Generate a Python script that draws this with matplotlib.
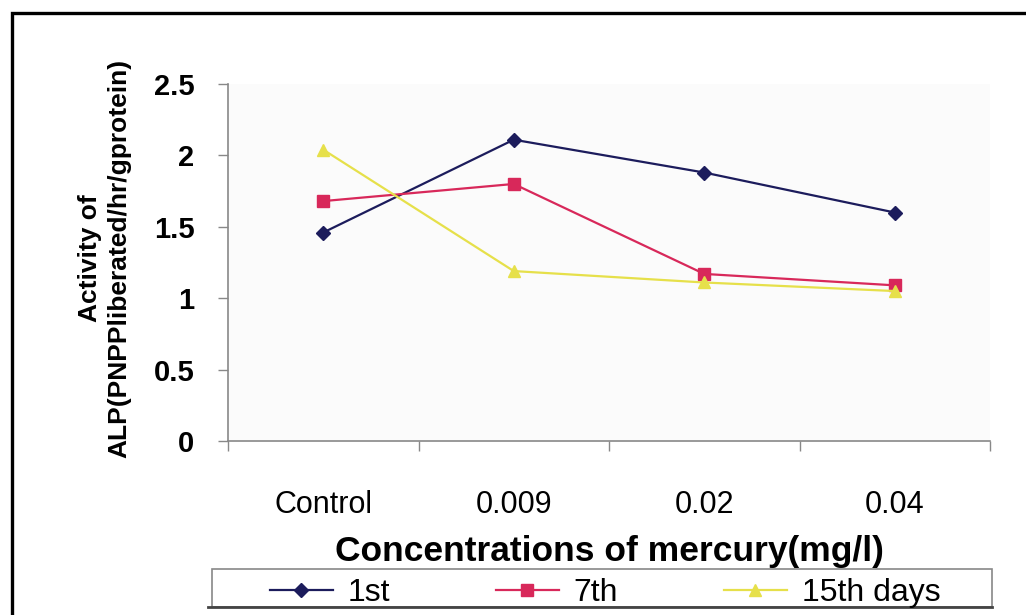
import numpy as np
import matplotlib
matplotlib.use('Agg')
import matplotlib.pyplot as plt
from matplotlib.patches import Rectangle
from matplotlib.lines import Line2D

# ALP activity by mercury concentration, three exposure periods
concentrations = ['Control', '0.009', '0.02', '0.04']
day_1 = [1.46, 2.11, 1.88, 1.60]
day_7 = [1.68, 1.80, 1.17, 1.09]
day_15 = [2.04, 1.19, 1.11, 1.05]
series_names = ['1st', '7th', '15th days']

plt.rcParams['font.family'] = ['Liberation Sans', 'DejaVu Sans']

W, H = 1026, 615
fig = plt.figure(figsize=(W / 100, H / 100), dpi=100)
fig.patch.set_facecolor('white')

# outer chart frame, runs off the right and bottom edges
fig.patches.append(Rectangle((12 / W, -0.05), 1.1, 1 - 13 / H + 0.05, transform=fig.transFigure,
                             fill=False, edgecolor='black', linewidth=2.4))

ax = fig.add_axes([228 / W, 1 - 441 / H, (990 - 228) / W, (441 - 84) / H])
ax.set_facecolor('#fbfbfb')

x = np.arange(len(concentrations))
ax.plot(x, day_1, color='#1c1c5c', marker='D', markersize=7, linewidth=1.6, label=series_names[0])
ax.plot(x, day_7, color='#d8285a', marker='s', markersize=8, linewidth=1.6, label=series_names[1])
ax.plot(x, day_15, color='#e6e04a', marker='^', markersize=9, linewidth=1.6, label=series_names[2])

ax.set_xlim(-0.5, len(concentrations) - 0.5)
ax.set_ylim(0, 2.5)
ax.set_yticks([0, 0.5, 1, 1.5, 2, 2.5])
ax.set_yticklabels(['0', '0.5', '1', '1.5', '2', '2.5'], fontsize=21, fontweight='bold')
ax.set_xticks(x)
ax.set_xticklabels(concentrations, fontsize=22)
ax.set_xticks(np.arange(-0.5, len(concentrations)), minor=True)
ax.tick_params(axis='x', which='major', length=0, pad=35)
ax.tick_params(axis='x', which='minor', length=7, color='#888888', width=1)
ax.tick_params(axis='y', length=7.2, color='#888888', width=1, pad=17)

for side in ['top', 'right']:
    ax.spines[side].set_visible(False)
for side in ['left', 'bottom']:
    ax.spines[side].set_color('#888888')
    ax.spines[side].set_linewidth(1.2)

ax.set_xlabel('Concentrations of mercury(mg/l)', fontsize=25.5, fontweight='bold', va='top')
ax.xaxis.set_label_coords(0.5, -(535 - 441) / (441 - 84))

fig.text(104.5 / W, 1 - 258 / H, 'Activity of\nALP(PNPPliberated/hr/gprotein)', rotation=90,
         ha='center', va='center', fontsize=19, fontweight='bold', linespacing=1.25,
         multialignment='center')

# legend box under the axis title (kept behind the axis title text)
fig.patches.append(Rectangle((212 / W, 1 - 607 / H), 780 / W, 38 / H, transform=fig.transFigure,
                             facecolor='white', edgecolor='#888888', linewidth=1.2, zorder=-1))
fig.add_artist(Line2D([208 / W, 992 / W], [1 - 607 / H, 1 - 607 / H], transform=fig.transFigure,
                      color='#444444', linewidth=2))
handles, labels = ax.get_legend_handles_labels()
leg = fig.legend(handles, labels, loc='center left', bbox_to_anchor=(270 / W, 1 - 593 / H),
                 ncol=3, frameon=False, fontsize=23, handlelength=1.97, handletextpad=0.47,
                 columnspacing=3.3, borderaxespad=0, borderpad=0)

fig.savefig('out.png', dpi=100, facecolor='white')
